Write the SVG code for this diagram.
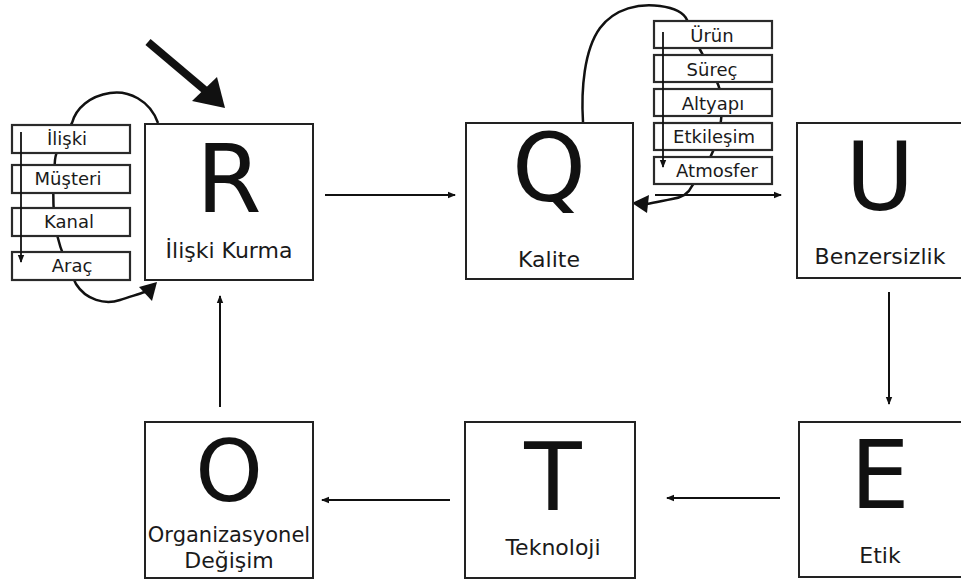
<svg xmlns="http://www.w3.org/2000/svg" width="961" height="583" viewBox="0 0 961 583">
<defs>
<marker id="ah" markerWidth="8" markerHeight="8" refX="7" refY="4" orient="auto" markerUnits="userSpaceOnUse">
<path d="M0,0.8 L8,4 L0,7.2 Z" fill="#111"/>
</marker>
</defs>
<style>
.box{fill:#fff;stroke:#222;stroke-width:2}
.sub{fill:#fff;stroke:#2a2a2a;stroke-width:2.2}
.big{font-family:"DejaVu Sans",Verdana,sans-serif;font-size:94px;fill:#111;text-anchor:middle}
.lbl{font-family:"DejaVu Sans",Verdana,sans-serif;font-size:22px;fill:#1a1a1a;text-anchor:middle}
.sl{font-family:"DejaVu Sans",Verdana,sans-serif;font-size:18px;fill:#1a1a1a;text-anchor:middle}
.conn{fill:none;stroke:#111;stroke-width:2;marker-end:url(#ah)}
.loop{fill:none;stroke:#111;stroke-width:2.5}
.head{fill:#111}
</style>
<rect width="961" height="583" fill="#fff"/>

<g id="connectors">
<line class="conn" x1="325" y1="195" x2="455" y2="195"/>
<line class="conn" x1="655" y1="195" x2="781" y2="195"/>
<line class="conn" x1="889" y1="292" x2="889" y2="404"/>
<line class="conn" x1="780" y1="498" x2="667" y2="498"/>
<line class="conn" x1="450" y1="500" x2="322" y2="500"/>
<line class="conn" x1="220" y1="407" x2="220" y2="296"/>
<line x1="148" y1="42" x2="206" y2="91" stroke="#111" stroke-width="8"/>
<polygon class="head" points="225,108 192,101 217,77"/>
<!-- left loop -->
<path class="loop" d="M158,123 C150,100 128,90 110,93 C90,96 76,108 72,123 C62,140 56,150 55,160 C53,180 53,200 54,215 C56,235 60,250 68,265 C72,275 74,280 76,284 C86,300 105,305 120,300 C130,297 138,294 145,292"/>
<polygon class="head" points="157,282 139,287 152,301"/>
<!-- right loop -->
<path class="loop" d="M583,122 C581,90 584,50 600,28 C615,8 640,3 660,6 C675,8 684,13 687,20 C700,60 725,80 722,110 C720,140 712,160 692,186 C688,195 680,198 672,199 C662,201 654,203 647,204"/>
<polygon class="head" points="632,203 649,195 647,213"/>
</g>

<g id="sub-left">
<rect class="sub" x="12" y="125" width="118" height="28"/>
<text class="sl" x="67" y="145">İlişki</text>
<rect class="sub" x="12" y="165" width="118" height="28"/>
<text class="sl" x="68" y="185">Müşteri</text>
<rect class="sub" x="12" y="208" width="118" height="28"/>
<text class="sl" x="69" y="228">Kanal</text>
<rect class="sub" x="12" y="252" width="118" height="28"/>
<text class="sl" x="72" y="272">Araç</text>
<line x1="21" y1="132" x2="21" y2="262" stroke="#111" stroke-width="1.8" marker-end="url(#ah)"/>
</g>

<g id="sub-right">
<rect class="sub" x="654" y="21" width="118" height="27"/>
<text class="sl" x="712" y="42">Ürün</text>
<rect class="sub" x="654" y="55" width="118" height="27"/>
<text class="sl" x="712" y="76">Süreç</text>
<rect class="sub" x="654" y="89" width="118" height="27"/>
<text class="sl" x="713" y="110">Altyapı</text>
<rect class="sub" x="654" y="123" width="118" height="27"/>
<text class="sl" x="714" y="143">Etkileşim</text>
<rect class="sub" x="654" y="157" width="118" height="27"/>
<text class="sl" x="717" y="177">Atmosfer</text>
<line x1="663" y1="32" x2="663" y2="167" stroke="#111" stroke-width="1.8" marker-end="url(#ah)"/>
</g>

<g id="node-R">
<rect class="box" x="145" y="124" width="168" height="156"/>
<text class="big" x="229" y="212">R</text>
<text class="lbl" x="229" y="258">İlişki Kurma</text>
</g>
<g id="node-Q">
<rect class="box" x="466" y="123" width="167" height="156"/>
<text class="big" x="549" y="201">Q</text>
<text class="lbl" x="549" y="267">Kalite</text>
</g>
<g id="node-U">
<rect class="box" x="797" y="123" width="175" height="155"/>
<text class="big" x="880" y="210">U</text>
<text class="lbl" x="880" y="264">Benzersizlik</text>
</g>
<g id="node-E">
<rect class="box" x="799" y="422" width="175" height="155"/>
<text class="big" x="880" y="508">E</text>
<text class="lbl" x="880" y="563">Etik</text>
</g>
<g id="node-T">
<rect class="box" x="465" y="422" width="170" height="156"/>
<text class="big" x="553" y="510">T</text>
<text class="lbl" x="553" y="555">Teknoloji</text>
</g>
<g id="node-O">
<rect class="box" x="145" y="422" width="168" height="156"/>
<text class="big" x="229" y="501" style="font-size:86px">O</text>
<text class="lbl" x="229" y="542" style="font-size:21px">Organizasyonel</text>
<text class="lbl" x="229" y="568">Değişim</text>
</g>
</svg>
